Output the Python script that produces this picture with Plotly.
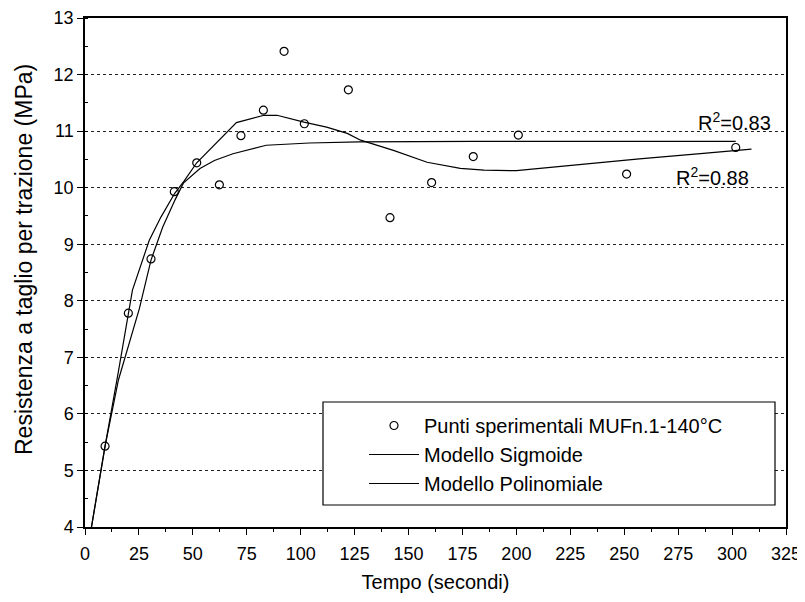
import plotly.graph_objects as go

# Experimental points
tempo_punti = [9.3, 20.1, 30.6, 41.4, 51.8, 62.3, 72.3, 82.7, 92.3, 101.7, 122.1, 141.4, 160.7, 180.0, 200.9, 251.1, 301.7]
resistenza_punti = [5.43, 7.78, 8.74, 9.93, 10.44, 10.05, 10.92, 11.37, 12.41, 11.13, 11.73, 9.47, 10.09, 10.55, 10.93, 10.24, 10.71]

# Sigmoid model curve
tempo_sigmoide = [3, 9.3, 15.5, 18.2, 25.2, 30.6, 36, 41.7, 45.6, 53.3, 60, 68.6, 84, 104, 127, 180, 240, 301.7]
valori_sigmoide = [4.0, 5.43, 6.6, 6.96, 7.86, 8.72, 9.3, 9.78, 10.08, 10.34, 10.48, 10.6, 10.75, 10.79, 10.81, 10.82, 10.82, 10.82]

# Polynomial model curve
tempo_polinomio = [3, 9.3, 15.5, 20.1, 22, 29.8, 35.2, 41.6, 46, 51.8, 70.2, 83, 89, 101.5, 112, 121.6, 127.8, 143, 158.6, 174, 185, 200, 226.5, 257, 288, 309]
valori_polinomio = [4.0, 5.43, 6.75, 7.78, 8.19, 9.07, 9.48, 9.9, 10.12, 10.44, 11.15, 11.28, 11.28, 11.16, 11.07, 10.96, 10.84, 10.66, 10.45, 10.34, 10.31, 10.3, 10.4, 10.51, 10.61, 10.68]

x_ticks = list(range(0, 326, 25))
y_ticks = list(range(4, 14))

FONT = "Liberation Sans, Arial, sans-serif"

fig = go.Figure()
fig.add_trace(go.Scatter(
    x=tempo_punti, y=resistenza_punti, mode="markers",
    name="Punti sperimentali MUFn.1-140°C",
    marker=dict(symbol="circle-open", size=8, color="black", line=dict(width=1.2, color="black")),
))
fig.add_trace(go.Scatter(
    x=tempo_sigmoide, y=valori_sigmoide, mode="lines",
    name="Modello Sigmoide", line=dict(color="black", width=1.2),
))
fig.add_trace(go.Scatter(
    x=tempo_polinomio, y=valori_polinomio, mode="lines",
    name="Modello Polinomiale", line=dict(color="black", width=1.2),
))

# the page body adds an 8px offset; compensate so the plot area lands where the reference has it
OFF = 8
W, H = 805 - OFF, 602 - 2 * OFF
L, T = 85 - OFF, 18 - OFF
R = W - L - 701
B = H - T - 509
pw, ph = W - L - R, H - T - B

def px(xp):
    return (xp - OFF - L) / pw

def py(yp):
    return (H - B - (yp - OFF)) / ph

fig.update_layout(
    width=W, height=H,
    margin=dict(l=L, r=R, t=T, b=B, autoexpand=False),
    paper_bgcolor="white", plot_bgcolor="white",
    font=dict(family=FONT, size=18, color="black"),
    showlegend=True,
    legend=dict(
        x=px(364), y=py(406), xanchor="left", yanchor="top",
        bgcolor="rgba(0,0,0,0)", borderwidth=0,
        font=dict(family=FONT, size=20, color="black"),
        itemwidth=50, tracegroupgap=0,
    ),
    shapes=[dict(
        type="rect", xref="paper", yref="paper",
        x0=px(323), x1=px(775), y0=py(505), y1=py(402),
        line=dict(color="black", width=1.2), fillcolor="white", layer="above",
    )],
    annotations=[
        dict(x=301.3, y=11.17, xref="x", yref="y", text="R<sup>2</sup>=0.83",
             showarrow=False, font=dict(family=FONT, size=20, color="black"),
             xanchor="center", yanchor="middle"),
        dict(x=291.1, y=10.19, xref="x", yref="y", text="R<sup>2</sup>=0.88",
             showarrow=False, font=dict(family=FONT, size=20, color="black"),
             xanchor="center", yanchor="middle"),
        dict(x=px(24), y=py(260), xref="paper", yref="paper",
             text="Resistenza a taglio per trazione (MPa)", textangle=-90,
             showarrow=False, font=dict(family=FONT, size=23, color="black"),
             xanchor="center", yanchor="middle"),
    ],
)

fig.update_xaxes(
    range=[0, 325], tickvals=x_ticks, ticktext=[str(v) for v in x_ticks],
    showgrid=False, zeroline=False,
    showline=True, linecolor="black", linewidth=1.5, mirror=True,
    ticks="outside", ticklen=6, tickwidth=1.2, tickcolor="black",
    minor=dict(ticks="outside", ticklen=3, dtick=12.5, tick0=0, tickcolor="black", showgrid=False),
    tickfont=dict(family=FONT, size=18),
    ticklabelstandoff=4,
    title=dict(text="Tempo (secondi)", font=dict(family=FONT, size=20), standoff=12),
)
fig.update_yaxes(
    range=[4, 13], tickvals=y_ticks, ticktext=[str(v) for v in y_ticks],
    showgrid=True, gridcolor="#222", gridwidth=1, griddash="dot",
    zeroline=False,
    showline=True, linecolor="black", linewidth=1.5, mirror=True,
    ticks="outside", ticklen=6, tickwidth=1.2, tickcolor="black",
    minor=dict(ticks="inside", ticklen=3, dtick=0.5, tick0=4, tickcolor="black", showgrid=False),
    tickfont=dict(family=FONT, size=18),
)

fig.write_html("out.html")
